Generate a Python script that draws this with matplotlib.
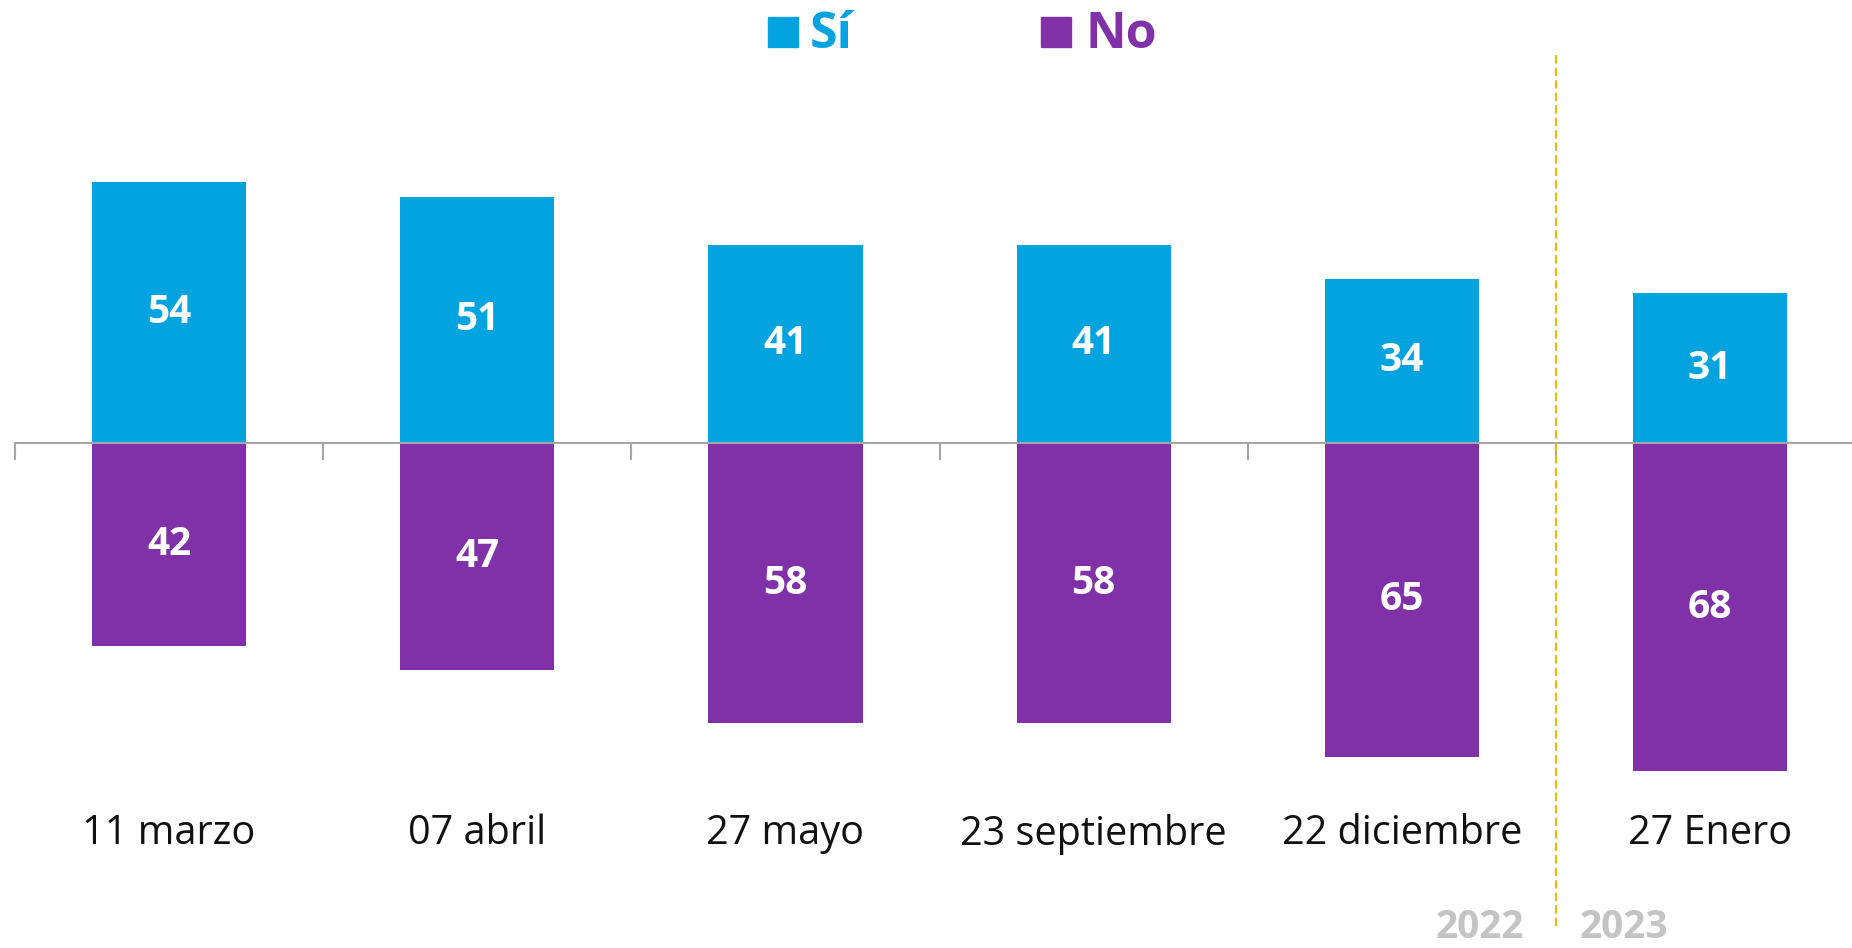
import numpy as np
import matplotlib
matplotlib.use("Agg")
import matplotlib.pyplot as plt
from matplotlib.patches import Rectangle

# Datos
fechas = ["11 marzo", "07 abril", "27 mayo", "23 septiembre", "22 diciembre", "27 Enero"]
si = [54, 51, 41, 41, 34, 31]
no = [42, 47, 58, 58, 65, 68]
anios = ["2022", "2023"]

azul = "#03A3E0"
morado = "#8031A7"
gris = "#A6A6A6"

plt.rcParams['font.family'] = ['Open Sans', 'DejaVu Sans']

W, H = 1852, 948
fig = plt.figure(figsize=(W / 100, H / 100), dpi=100)

# eje: cero en y=443 px desde arriba, 4.83 px por unidad
L = 100
alto = 2 * L * 4.83
abajo = (H - 443) - alto / 2
paso = 308.2
ax = fig.add_axes([15 / W, abajo / H, 6 * paso / W, alto / H])
ax.set_xlim(-0.5, len(fechas) - 0.5)
ax.set_ylim(-L, L)

x = np.arange(len(fechas))
b1 = ax.bar(x, si, width=0.5, color=azul)
b2 = ax.bar(x, [-v for v in no], width=0.5, color=morado)
ax.bar_label(b1, labels=[str(v) for v in si], label_type='center',
             color='white', fontsize=28, fontweight='bold')
ax.bar_label(b2, labels=[str(v) for v in no], label_type='center',
             color='white', fontsize=28, fontweight='bold')

# linea base con marcas entre categorias
for s in ['top', 'right', 'left']:
    ax.spines[s].set_visible(False)
ax.spines['bottom'].set_position(('data', 0))
ax.spines['bottom'].set_color(gris)
ax.spines['bottom'].set_linewidth(1.5)
ax.spines['bottom'].set_zorder(5)
ax.set_yticks([])
ax.set_xticks([])
ax.set_xticks(np.arange(-0.5, len(fechas) - 0.5, 1), minor=True)
ax.tick_params(axis='x', which='minor', length=12, width=1.5, color=gris, direction='out')
ax.set_xticklabels([], minor=True)

for i, f in enumerate(fechas):
    ax.text(i, -81, f, ha='center', va='center', fontsize=28.5, color='#111111')

# separador de anios
ax.axvline(len(fechas) - 1.5, ymin=0.0, ymax=(H - 53 - abajo) / alto,
           color='#F5B800', lw=1.5, ls=(0, (4, 2)), clip_on=False)

fig.text(1480 / W, 1 - 927 / H, anios[0], ha='center', va='center',
         fontsize=28, fontweight='bold', color='#C4C4C4')
fig.text(1624 / W, 1 - 927 / H, anios[1], ha='center', va='center',
         fontsize=28, fontweight='bold', color='#C4C4C4')

# leyenda
fig.add_artist(Rectangle((768 / W, 1 - 47 / H), 30 / W, 30 / H, color=azul,
                         transform=fig.transFigure))
fig.add_artist(Rectangle((1041 / W, 1 - 47 / H), 30 / W, 30 / H, color=morado,
                         transform=fig.transFigure))
fig.text(810 / W, 1 - 35 / H, "Sí", ha='left', va='center', fontsize=36,
         fontweight='bold', color=azul)
fig.text(1085 / W, 1 - 35 / H, "No", ha='left', va='center', fontsize=36,
         fontweight='bold', color=morado)

fig.savefig("out.png", dpi=100)
